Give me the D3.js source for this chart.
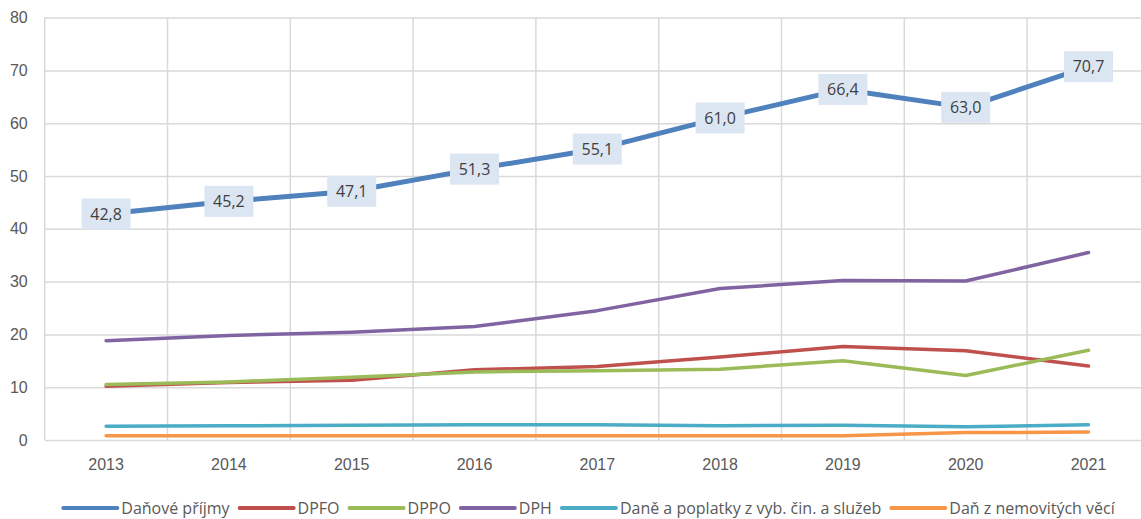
<!DOCTYPE html>
<html>
<head>
<meta charset="utf-8">
<script src="https://cdn.jsdelivr.net/npm/d3@7"></script>
<style>
  html, body { margin: 0; padding: 0; background: #fff; }
  svg { display: block; font-family: "Open Sans", "Noto Sans", sans-serif; }
</style>
</head>
<body>
<svg id="chart" width="1141" height="519"></svg>
<script>
const years = ["2013","2014","2015","2016","2017","2018","2019","2020","2021"];
const seriesNames = ["Daňové příjmy","DPFO","DPPO","DPH","Daně a poplatky z vyb. čin. a služeb","Daň z nemovitých věcí"];
const danovePrijmy = [42.8, 45.2, 47.1, 51.3, 55.1, 61.0, 66.4, 63.0, 70.7];
const dpfo = [10.2, 10.9, 11.3, 13.3, 13.9, 15.7, 17.7, 16.9, 14.0];
const dppo = [10.5, 11.0, 11.9, 12.9, 13.1, 13.4, 15.0, 12.2, 17.0];
const dph = [18.8, 19.8, 20.4, 21.5, 24.5, 28.7, 30.2, 30.1, 35.5];
const danePoplatky = [2.6, 2.7, 2.8, 2.9, 2.9, 2.7, 2.8, 2.5, 2.9];
const danNemovitosti = [0.8, 0.8, 0.8, 0.8, 0.8, 0.8, 0.8, 1.4, 1.5];
const yTicks = [0, 10, 20, 30, 40, 50, 60, 70, 80];
const colors = ["#4f81bd", "#c0504d", "#9bbb59", "#8064a2", "#4bacc6", "#f79646"];
const widths = [5, 3.5, 3.5, 3.5, 3.5, 3.5];
const allSeries = [danovePrijmy, dpfo, dppo, dph, danePoplatky, danNemovitosti];

const svg = d3.select("#chart");
const W = 1141;
const mLeft = 44.7, step = 122.8, mTop = 17.6, mBottom = 440;
const fs = "16px";

const x = d3.scaleBand().domain(years).range([mLeft, mLeft + step * years.length]).padding(0);
const y = d3.scaleLinear().domain([0, 80]).range([mBottom, mTop]);
const cx = d => x(d) + x.bandwidth() / 2;

const grid = "#d9d9d9";
const textCol = "#595959";

// horizontal grid + y labels
const yAxis = d3.axisLeft(y).tickValues(yTicks).tickSize(-(W - mLeft + 20)).tickPadding(17).tickFormat(d3.format("d"));
const gy = svg.append("g").attr("transform", `translate(${mLeft},0)`).call(yAxis);
gy.select(".domain").remove();
gy.selectAll(".tick line").attr("stroke", grid).attr("stroke-width", 1.5);
gy.selectAll(".tick text").attr("fill", textCol).style("font-size", fs);

// vertical grid lines at band boundaries
const bounds = years.map(d => x(d)).concat([x.range()[1]]);
svg.append("g").selectAll("line").data(bounds).join("line")
  .attr("x1", d => d).attr("x2", d => d)
  .attr("y1", y(80)).attr("y2", y(0))
  .attr("stroke", grid).attr("stroke-width", 1.5);

// x axis labels
const xAxis = d3.axisBottom(x).tickSize(0).tickPadding(19);
const gx = svg.append("g").attr("transform", `translate(0,${mBottom})`).call(xAxis);
gx.select(".domain").remove();
gx.selectAll(".tick text").attr("fill", textCol).style("font-size", fs);

// lines
const line = d3.line().x((d, i) => cx(years[i])).y(d => y(d));
allSeries.forEach((s, k) => {
  svg.append("path").datum(s)
    .attr("d", line)
    .attr("fill", "none")
    .attr("stroke", colors[k])
    .attr("stroke-width", widths[k])
    .attr("stroke-linecap", "round")
    .attr("stroke-linejoin", "round");
});

// data labels for Daňové příjmy
const fmt = v => d3.format(".1f")(v).replace(".", ",");
const lab = svg.append("g").selectAll("g").data(danovePrijmy).join("g")
  .attr("transform", (d, i) => `translate(${cx(years[i])},${y(d)})`);
lab.append("rect").attr("x", -24.5).attr("y", -15.5).attr("width", 49).attr("height", 31).attr("fill", "#dce6f2");
lab.append("text").attr("text-anchor", "middle").attr("dy", "0.36em")
  .attr("fill", "#404040").style("font-size", fs).text(d => fmt(d));

// legend
const legY = 508;
const lg = svg.append("g");
const items = lg.selectAll("g").data(seriesNames).join("g");
items.append("line").attr("x1", 0).attr("x2", 54).attr("y1", 0).attr("y2", 0)
  .attr("stroke", (d, i) => colors[i]).attr("stroke-width", 4).attr("stroke-linecap", "round");
items.append("text").attr("x", 58).attr("dy", "0.36em").attr("fill", textCol)
  .style("font-size", fs).text(d => d);
let pos = 0;
const offs = [];
items.each(function() {
  const tw = d3.select(this).select("text").node().getComputedTextLength();
  offs.push(pos);
  pos += 58 + tw + 10;
});
const total = pos - 10;
const start = 589 - total / 2;
items.attr("transform", (d, i) => `translate(${start + offs[i]},${legY})`);
</script>
</body>
</html>
